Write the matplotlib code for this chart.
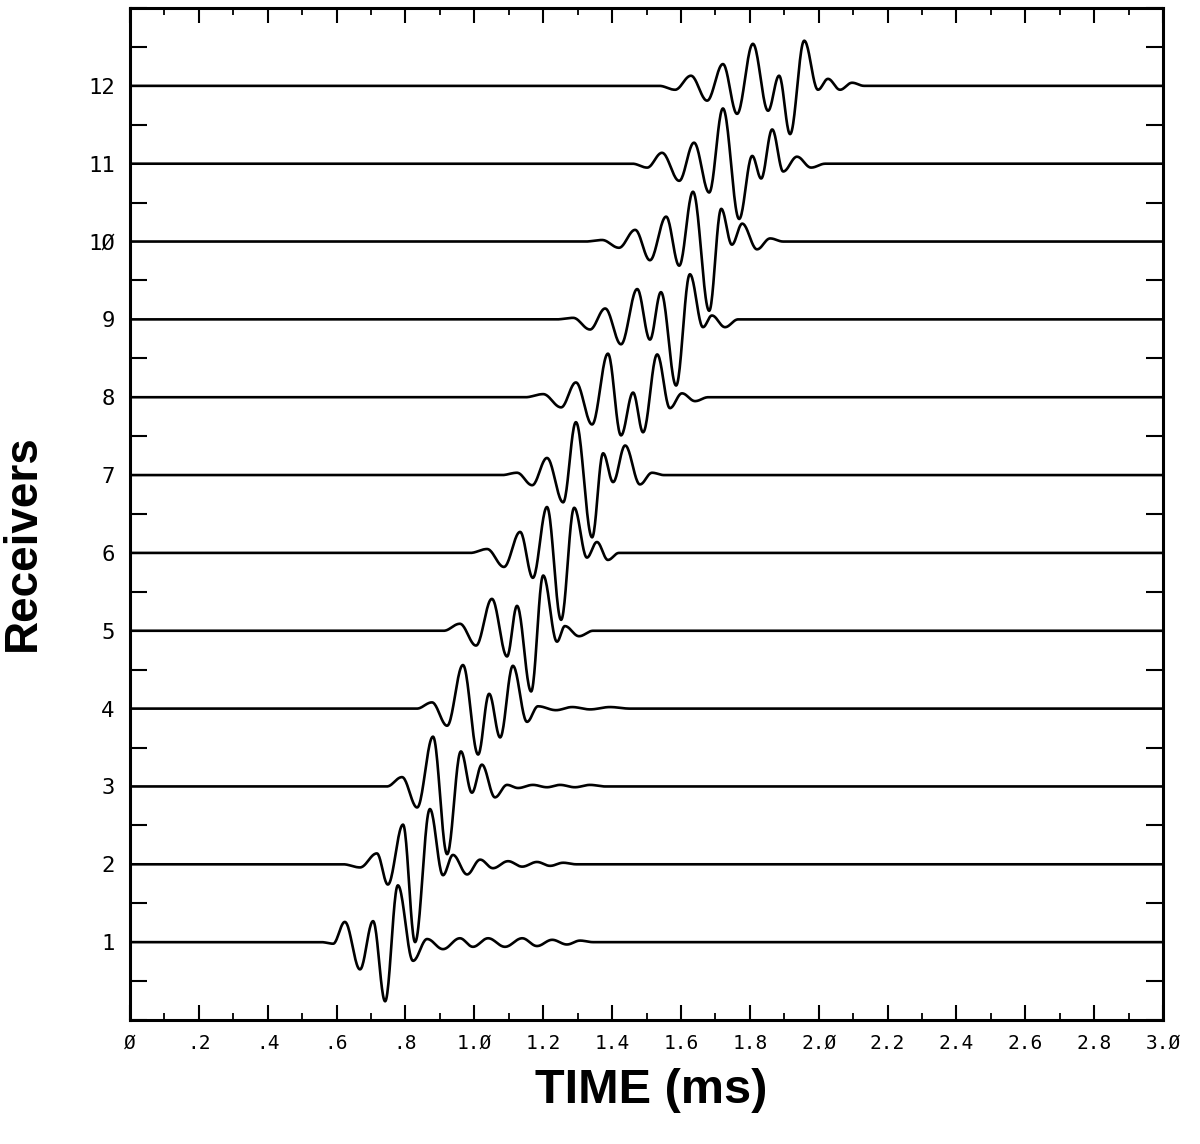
import matplotlib
matplotlib.use("Agg")
import matplotlib.pyplot as plt
import numpy as np
from matplotlib.ticker import FixedLocator, MultipleLocator

# ---- data: extrema of each receiver trace (time in ms, amplitude in trace spacings)
r1_t = [0.590, 0.624, 0.668, 0.706, 0.741, 0.778, 0.822, 0.863, 0.909, 0.958, 0.996,
        1.040, 1.089, 1.139, 1.182, 1.226, 1.269, 1.307]
r1_a = [-0.02, 0.26, -0.35, 0.27, -0.76, 0.73, -0.24, 0.04, -0.09, 0.05, -0.06,
        0.05, -0.06, 0.05, -0.05, 0.03, -0.03, 0.02]

r2_t = [0.668, 0.717, 0.749, 0.793, 0.828, 0.871, 0.909, 0.938, 0.979, 1.017, 1.054,
        1.098, 1.139, 1.182, 1.220, 1.258]
r2_a = [-0.04, 0.14, -0.26, 0.51, -1.00, 0.71, -0.14, 0.12, -0.13, 0.06, -0.05,
        0.04, -0.03, 0.03, -0.02, 0.02]

r3_t = [0.790, 0.834, 0.880, 0.921, 0.961, 0.993, 1.022, 1.060, 1.095, 1.127, 1.170,
        1.211, 1.249, 1.292, 1.336]
r3_a = [0.12, -0.27, 0.64, -0.87, 0.45, -0.08, 0.28, -0.14, 0.02, -0.02, 0.02,
        -0.01, 0.02, -0.01, 0.02]

r4_t = [0.877, 0.921, 0.967, 1.011, 1.043, 1.075, 1.112, 1.153, 1.185, 1.237, 1.284,
        1.336, 1.394]
r4_a = [0.08, -0.22, 0.56, -0.59, 0.19, -0.37, 0.55, -0.17, 0.03, -0.02, 0.02,
        -0.01, 0.02]

r5_t = [0.958, 1.005, 1.051, 1.095, 1.124, 1.165, 1.200, 1.240, 1.263, 1.304]
r5_a = [0.09, -0.19, 0.41, -0.33, 0.32, -0.78, 0.71, -0.14, 0.06, -0.07]

r6_t = [1.037, 1.086, 1.133, 1.170, 1.211, 1.252, 1.290, 1.327, 1.356, 1.388]
r6_a = [0.05, -0.18, 0.27, -0.32, 0.59, -0.86, 0.58, -0.06, 0.14, -0.09]

r7_t = [1.124, 1.168, 1.211, 1.258, 1.295, 1.342, 1.374, 1.403, 1.438, 1.481, 1.516]
r7_a = [0.03, -0.13, 0.22, -0.35, 0.68, -0.80, 0.28, -0.09, 0.38, -0.12, 0.03]

r8_t = [1.200, 1.252, 1.295, 1.342, 1.388, 1.426, 1.461, 1.490, 1.531, 1.568, 1.603, 1.641]
r8_a = [0.04, -0.13, 0.19, -0.35, 0.56, -0.49, 0.06, -0.45, 0.55, -0.14, 0.05, -0.05]

r9_t = [1.287, 1.336, 1.380, 1.426, 1.473, 1.510, 1.542, 1.586, 1.626, 1.664, 1.690, 1.728]
r9_a = [0.02, -0.13, 0.14, -0.32, 0.39, -0.26, 0.35, -0.85, 0.58, -0.10, 0.05, -0.10]

r10_t = [1.371, 1.420, 1.467, 1.510, 1.557, 1.595, 1.635, 1.682, 1.717, 1.748, 1.778,
         1.821, 1.859]
r10_a = [0.02, -0.08, 0.15, -0.24, 0.32, -0.31, 0.64, -0.89, 0.42, -0.04, 0.23,
         -0.10, 0.04]

r11_t = [1.502, 1.545, 1.595, 1.638, 1.682, 1.722, 1.769, 1.807, 1.833, 1.865, 1.897,
         1.937, 1.978]
r11_a = [-0.05, 0.14, -0.22, 0.27, -0.37, 0.71, -0.71, 0.10, -0.19, 0.44, -0.10,
         0.09, -0.05]

r12_t = [1.583, 1.629, 1.676, 1.722, 1.763, 1.809, 1.853, 1.885, 1.917, 1.958, 1.998,
         2.027, 2.062, 2.097]
r12_a = [-0.05, 0.13, -0.19, 0.28, -0.36, 0.54, -0.32, 0.13, -0.62, 0.58, -0.05,
         0.09, -0.05, 0.04]

receivers = list(range(1, 13))
x_tick_vals = [0.0, 0.2, 0.4, 0.6, 0.8, 1.0, 1.2, 1.4, 1.6, 1.8, 2.0, 2.2, 2.4, 2.6, 2.8, 3.0]
x_tick_labels = ["Ø", ".2", ".4", ".6", ".8", "1.Ø", "1.2", "1.4", "1.6", "1.8",
                 "2.Ø", "2.2", "2.4", "2.6", "2.8", "3.Ø"]
y_tick_labels = ["1", "2", "3", "4", "5", "6", "7", "8", "9", "1Ø", "11", "12"]

traces = [(r1_t, r1_a), (r2_t, r2_a), (r3_t, r3_a), (r4_t, r4_a), (r5_t, r5_a),
          (r6_t, r6_a), (r7_t, r7_a), (r8_t, r8_a), (r9_t, r9_a), (r10_t, r10_a),
          (r11_t, r11_a), (r12_t, r12_a)]

T_MAX = 3.0


def wiggle_path(tk, ak, n=24):
    """Join the extrema with half-cosine segments, flat baseline elsewhere."""
    d0 = tk[1] - tk[0]
    dn = tk[-1] - tk[-2]
    kt = [tk[0] - d0] + list(tk) + [tk[-1] + dn]
    ka = [0.0] + list(ak) + [0.0]
    xs, ys = [0.0], [0.0]
    s = np.linspace(0, 1, n)
    for i in range(len(kt) - 1):
        xs.extend(kt[i] + (kt[i + 1] - kt[i]) * s)
        ys.extend(ka[i] + (ka[i + 1] - ka[i]) * (1 - np.cos(np.pi * s)) / 2)
    xs.append(T_MAX)
    ys.append(0.0)
    return np.array(xs), np.array(ys)


fig = plt.figure(figsize=(12, 11.44), dpi=100)
ax = fig.add_axes([0.1083, 0.1084, 0.8609, 0.8846])

for rec, (tk, ak) in zip(receivers, traces):
    xs, ys = wiggle_path(tk, ak)
    ax.plot(xs, rec + ys, color="black", lw=1.9, solid_joinstyle="round")

ax.set_xlim(0, T_MAX)
ax.set_ylim(0, 13)

ax.xaxis.set_major_locator(FixedLocator(x_tick_vals))
ax.set_xticklabels(x_tick_labels)
ax.xaxis.set_minor_locator(MultipleLocator(0.1))
ax.yaxis.set_major_locator(FixedLocator(receivers))
ax.set_yticklabels(y_tick_labels)
ax.yaxis.set_minor_locator(MultipleLocator(0.5))

mono = "DejaVu Sans Mono"
for lab in ax.get_xticklabels():
    lab.set_fontfamily(mono)
    lab.set_fontsize(14)
for lab in ax.get_yticklabels():
    lab.set_fontfamily(mono)
    lab.set_fontsize(16)

ax.tick_params(axis="x", which="major", direction="in", top=True, bottom=True,
               length=11, width=1.5, pad=10)
ax.tick_params(axis="x", which="minor", direction="in", top=True, bottom=True,
               length=5, width=1.3)
ax.tick_params(axis="y", which="major", direction="in", left=True, right=True,
               length=0, pad=11)
ax.tick_params(axis="y", which="minor", direction="in", left=True, right=True,
               length=12, width=1.5)

for s in ax.spines.values():
    s.set_linewidth(2.2)

fig.text(0.5425, 0.047, "TIME (ms)", ha="center", va="center",
         fontsize=35, fontweight="bold", family="Liberation Sans")
fig.text(0.0375, 0.526, "Receivers", ha="right", va="center", rotation=90,
         fontsize=33, fontweight="bold", family="Liberation Sans")

fig.savefig("out.png", dpi=100)
